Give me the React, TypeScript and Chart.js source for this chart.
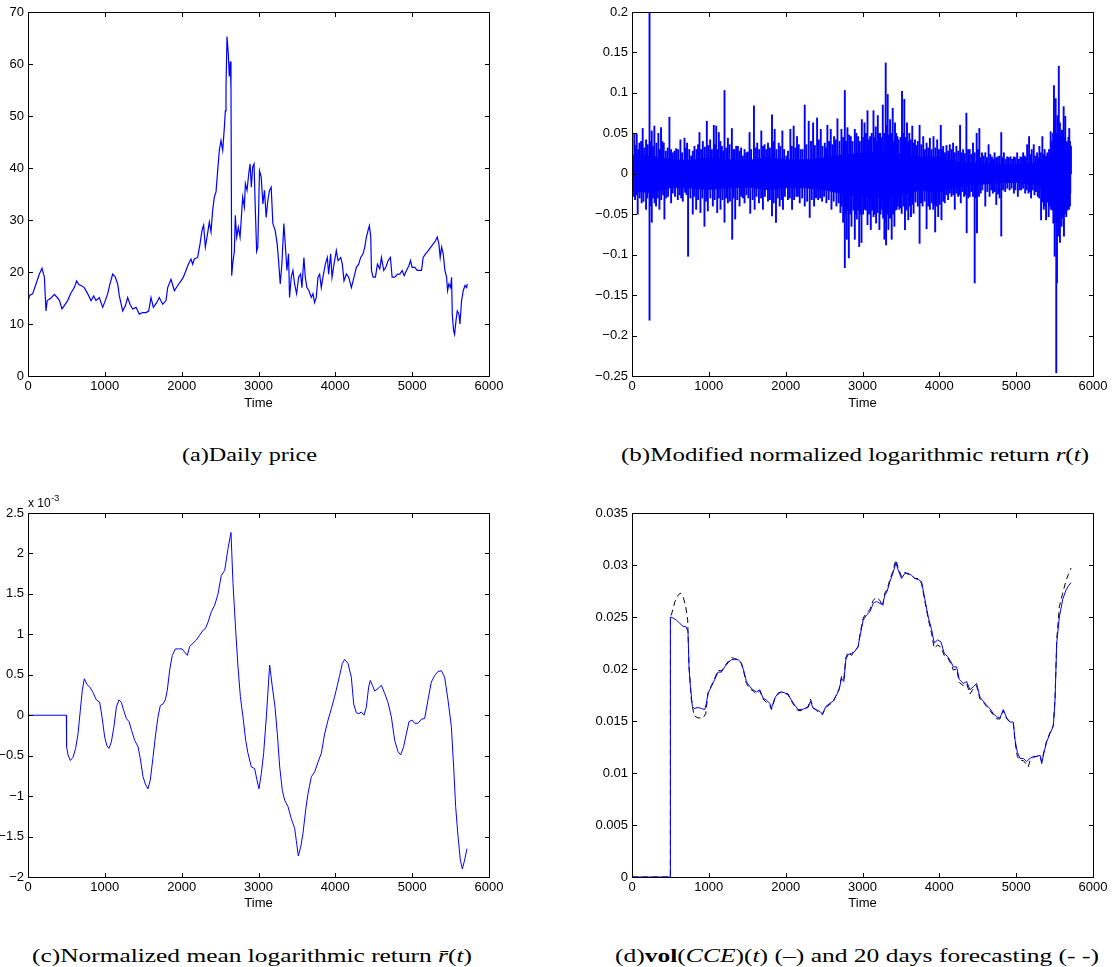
import React, { useEffect, useRef } from "react";
import Chart from "chart.js/auto";

const FONT = "'Liberation Sans', Arial, Helvetica, sans-serif";
const CAP_FONT = "'Liberation Serif', 'Times New Roman', serif";
const BLUE = "#0000ff";

// ---------- (a) Daily price ----------
const priceTime = [0,20,60,104,148,182,213,234,250,300,343,386,410,442,470,516,560,603,633,660,690,733,777,820,855,885,928,972,1006,1037,1067,1102,1137,1167,1189,1232,1267,1297,1328,1362,1406,1449,1492,1536,1571,1601,1631,1675,1709,1753,1796,1818,1861,1905,1948,1991,2022,2056,2087,2121,2143,2165,2208,2239,2265,2286,2308,2330,2360,2382,2403,2425,2447,2469,2490,2512,2534,2556,2568,2577,2590,2607,2620,2633,2642,2651,2664,2686,2698,2716,2738,2760,2777,2794,2816,2829,2851,2873,2890,2907,2924,2942,2959,2976,2991,3013,3035,3057,3078,3100,3122,3143,3165,3187,3217,3243,3261,3283,3304,3330,3348,3370,3391,3404,3426,3448,3470,3496,3522,3548,3565,3591,3609,3630,3657,3687,3709,3730,3752,3774,3796,3817,3839,3870,3896,3913,3939,3957,3983,4013,4035,4070,4091,4113,4143,4174,4209,4243,4274,4304,4330,4361,4383,4404,4426,4443,4461,4470,4491,4522,4548,4578,4600,4630,4657,4687,4717,4739,4774,4809,4839,4870,4896,4926,4957,4978,5000,5035,5065,5091,5122,5143,5174,5209,5243,5274,5304,5326,5348,5365,5383,5404,5426,5448,5461,5478,5500,5513,5522,5539,5552,5570,5587,5609,5622,5643,5665,5687,5709,5717];
const priceValue = [14.2,15.5,15.8,17.7,19.6,20.7,19,12.5,14.5,15,15.7,15,14.5,12.9,13.5,14.5,16,17,18.3,17.6,17.4,17,15.8,14.5,15.4,14.5,15.1,13.2,14.5,15.8,17.7,19.6,19,17.7,15.4,12.5,13.5,15.1,13.8,12.9,13.2,11.9,12.2,12.2,12.5,15.1,13.2,14.1,15.1,13.8,14.5,17,18.6,16.4,17.4,18.3,19,20.3,21.5,22.5,21.5,22.5,22.8,25.4,28,29,24.8,26.7,29.6,27.7,31.8,34.4,35.4,39.5,43.4,45.3,43.4,47.9,51,55.6,65.3,62,57.6,60.5,55.3,19.3,21.5,24,30.9,26.7,28.6,26.7,30.5,34.4,32.5,37,35.7,38.9,40.8,36.3,40.2,40.8,31.8,24,24.8,39.5,38.3,33.1,35.7,30.5,33.8,35.7,36.3,29.3,28,25.4,22.2,17.7,21.5,29.3,25.4,20.3,23.5,15.1,19,20.3,17.7,15.8,19,19.6,17,22.8,19,17,16.4,15.1,15.8,14.1,15.1,19,19.6,17,19,21.5,22.8,19.6,23.5,19,21.5,24.1,22.2,22.8,21.5,18.3,19.6,19,17,19,20.9,21.5,22.8,23.5,24.8,26.7,28,28.9,26.7,20.3,19,19,21.5,20.6,22.8,20.3,20.9,22.2,22.8,19,19,19.6,19.6,20.3,19.3,20.3,21.2,22.2,20.9,20.9,20.3,20.3,20.3,22.8,23.5,24.1,24.8,25.4,26,26.7,25.4,22.8,24.8,23.5,20.3,19,16.4,17.7,17,19,11.9,8.7,8,10.6,12.5,11.9,10,14.5,16.4,17.4,17,17.7];

// ---------- (b) Modified normalized logarithmic return ----------
const coreTime = [0,250,500,750,1000,1250,1500,1750,2000,2250,2500,2750,3000,3250,3500,3750,4000,4250,4500,4750,5000,5250,5500,5720];
const coreHigh = [0.023,0.023,0.018,0.017,0.02,0.018,0.017,0.02,0.018,0.018,0.02,0.024,0.026,0.028,0.025,0.021,0.021,0.015,0.014,0.012,0.012,0.014,0.026,0.023];
const coreLow = [-0.022,-0.024,-0.018,-0.018,-0.02,-0.018,-0.017,-0.02,-0.018,-0.018,-0.02,-0.026,-0.028,-0.03,-0.027,-0.021,-0.023,-0.016,-0.014,-0.012,-0.011,-0.014,-0.029,-0.024];
const spikesUp: [number, number][] = [[30,0.05],[61,0.049],[96,0.038],[139,0.056],[183,0.042],[228,0.2],[257,0.053],[291,0.059],[343,0.05],[378,0.057],[413,0.038],[487,0.07],[530,0.026],[574,0.031],[630,0.042],[683,0.044],[717,0.038],[770,0.022],[813,0.034],[878,0.051],[922,0.04],[974,0.065],[1017,0.042],[1065,0.06],[1096,0.059],[1130,0.051],[1170,0.034],[1204,0.103],[1248,0.044],[1300,0.056],[1335,0.03],[1378,0.034],[1443,0.022],[1487,0.026],[1530,0.051],[1587,0.084],[1630,0.038],[1683,0.053],[1726,0.036],[1770,0.038],[1822,0.073],[1857,0.055],[1909,0.038],[1957,0.053],[2009,0.022],[2061,0.055],[2104,0.059],[2148,0.046],[2196,0.03],[2248,0.085],[2300,0.065],[2357,0.063],[2409,0.069],[2457,0.055],[2509,0.038],[2543,0.06],[2587,0.055],[2630,0.046],[2674,0.068],[2726,0.055],[2770,0.103],[2804,0.057],[2848,0.046],[2900,0.055],[2943,0.046],[2991,0.067],[3026,0.063],[3065,0.078],[3099,0.046],[3143,0.078],[3173,0.058],[3199,0.072],[3229,0.05],[3264,0.085],[3302,0.137],[3328,0.098],[3359,0.067],[3393,0.081],[3423,0.063],[3454,0.046],[3514,0.102],[3544,0.092],[3579,0.063],[3609,0.05],[3648,0.059],[3683,0.042],[3743,0.06],[3790,0.046],[3834,0.038],[3877,0.044],[3924,0.046],[3972,0.042],[4019,0.06],[4050,0.034],[4093,0.035],[4136,0.036],[4179,0.038],[4222,0.034],[4270,0.06],[4309,0.03],[4352,0.075],[4395,0.03],[4438,0.038],[4486,0.05],[4521,0.056],[4555,0.026],[4598,0.026],[4641,0.036],[4685,0.021],[4719,0.026],[4762,0.021],[4806,0.051],[4840,0.026],[4883,0.021],[4927,0.021],[4970,0.021],[5013,0.026],[5056,0.021],[5091,0.026],[5143,0.036],[5168,0.046],[5203,0.03],[5229,0.036],[5272,0.026],[5302,0.034],[5341,0.046],[5371,0.03],[5406,0.026],[5449,0.052],[5492,0.109],[5514,0.093],[5536,0.072],[5555,0.133],[5570,0.063],[5596,0.054],[5618,0.083],[5639,0.071],[5669,0.038],[5691,0.056],[5713,0.034]];
const spikesDown: [number, number][] = [[22,-0.028],[74,-0.05],[126,-0.036],[183,-0.044],[228,-0.181],[257,-0.06],[313,-0.04],[357,-0.044],[422,-0.056],[509,-0.036],[596,-0.032],[661,-0.034],[691,-0.023],[730,-0.102],[791,-0.05],[835,-0.044],[891,-0.048],[943,-0.065],[987,-0.046],[1052,-0.04],[1109,-0.048],[1152,-0.044],[1204,-0.06],[1248,-0.036],[1304,-0.081],[1343,-0.056],[1400,-0.04],[1465,-0.036],[1539,-0.049],[1596,-0.044],[1652,-0.036],[1704,-0.044],[1770,-0.034],[1822,-0.052],[1874,-0.06],[1922,-0.04],[1965,-0.044],[2030,-0.032],[2083,-0.044],[2139,-0.028],[2183,-0.036],[2248,-0.04],[2313,-0.054],[2370,-0.04],[2422,-0.032],[2474,-0.034],[2530,-0.036],[2596,-0.044],[2661,-0.04],[2713,-0.048],[2748,-0.06],[2770,-0.116],[2796,-0.081],[2822,-0.104],[2857,-0.065],[2900,-0.081],[2926,-0.056],[2957,-0.09],[2987,-0.085],[3026,-0.044],[3065,-0.063],[3108,-0.069],[3143,-0.053],[3177,-0.061],[3220,-0.069],[3251,-0.044],[3285,-0.081],[3307,-0.088],[3337,-0.069],[3380,-0.081],[3415,-0.065],[3445,-0.044],[3480,-0.044],[3510,-0.049],[3553,-0.069],[3596,-0.057],[3631,-0.053],[3665,-0.049],[3743,-0.086],[3782,-0.04],[3834,-0.068],[3877,-0.044],[3920,-0.044],[3946,-0.072],[3985,-0.053],[4028,-0.057],[4071,-0.036],[4114,-0.032],[4158,-0.028],[4201,-0.044],[4244,-0.028],[4279,-0.036],[4322,-0.028],[4356,-0.073],[4395,-0.028],[4438,-0.028],[4460,-0.135],[4490,-0.073],[4538,-0.024],[4598,-0.04],[4654,-0.028],[4698,-0.024],[4741,-0.038],[4806,-0.077],[4857,-0.022],[4914,-0.02],[4970,-0.024],[5022,-0.028],[5065,-0.02],[5117,-0.024],[5160,-0.024],[5194,-0.03],[5238,-0.026],[5281,-0.028],[5324,-0.057],[5359,-0.044],[5389,-0.057],[5423,-0.053],[5454,-0.044],[5484,-0.061],[5501,-0.102],[5522,-0.246],[5531,-0.135],[5549,-0.077],[5570,-0.085],[5592,-0.065],[5622,-0.077],[5652,-0.053],[5687,-0.044]];
const mediumUp: [number, number][] = [[45,0.035],[80,0.03],[118,0.04],[160,0.032],[205,0.036],[242,0.04],[272,0.034],[318,0.038],[362,0.03],[395,0.04],[440,0.028],[465,0.032],[508,0.03],[552,0.028],[600,0.03],[652,0.026],[700,0.032],[745,0.03],[792,0.028],[840,0.03],[860,0.036],[900,0.03],[948,0.033],[995,0.035],[1040,0.03],[1080,0.036],[1112,0.03],[1150,0.04],[1188,0.028],[1226,0.032],[1270,0.036],[1318,0.03],[1356,0.034],[1400,0.028],[1420,0.032],[1465,0.03],[1508,0.027],[1550,0.03],[1610,0.032],[1655,0.03],[1705,0.034],[1748,0.03],[1795,0.032],[1840,0.04],[1880,0.03],[1930,0.034],[1980,0.03],[2030,0.028],[2080,0.034],[2125,0.032],[2170,0.036],[2220,0.03],[2270,0.036],[2330,0.04],[2380,0.035],[2432,0.042],[2480,0.034],[2525,0.032],[2565,0.04],[2610,0.036],[2652,0.042],[2700,0.04],[2748,0.045],[2785,0.04],[2826,0.048],[2870,0.04],[2920,0.05],[2965,0.04],[3010,0.045],[3045,0.05],[3082,0.042],[3120,0.05],[3158,0.045],[3186,0.04],[3214,0.05],[3246,0.045],[3283,0.05],[3315,0.06],[3343,0.048],[3376,0.05],[3408,0.04],[3438,0.05],[3470,0.042],[3495,0.045],[3530,0.05],[3562,0.045],[3594,0.04],[3628,0.042],[3665,0.038],[3700,0.035],[3720,0.04],[3765,0.036],[3812,0.03],[3855,0.032],[3900,0.03],[3948,0.032],[3995,0.03],[4035,0.03],[4072,0.026],[4115,0.028],[4158,0.03],[4200,0.026],[4246,0.028],[4290,0.026],[4330,0.025],[4374,0.03],[4416,0.024],[4460,0.026],[4503,0.03],[4538,0.02],[4576,0.022],[4620,0.02],[4662,0.024],[4700,0.018],[4740,0.02],[4784,0.022],[4822,0.02],[4862,0.018],[4905,0.02],[4948,0.018],[4990,0.02],[5035,0.018],[5073,0.02],[5110,0.022],[5125,0.02],[5186,0.024],[5250,0.022],[5290,0.02],[5320,0.026],[5356,0.024],[5390,0.022],[5428,0.03],[5462,0.04],[5480,0.05],[5505,0.06],[5525,0.05],[5545,0.06],[5562,0.05],[5583,0.045],[5607,0.05],[5630,0.045],[5655,0.04],[5680,0.045],[5700,0.04]];
const mediumDown: [number, number][] = [[40,-0.032],[60,-0.026],[100,-0.03],[150,-0.034],[200,-0.03],[240,-0.04],[275,-0.03],[295,-0.036],[335,-0.03],[380,-0.032],[405,-0.026],[445,-0.03],[470,-0.028],[530,-0.024],[560,-0.028],[620,-0.026],[640,-0.03],[710,-0.026],[760,-0.03],[810,-0.028],[860,-0.032],[915,-0.03],[965,-0.034],[1020,-0.03],[1075,-0.032],[1130,-0.03],[1178,-0.032],[1226,-0.03],[1275,-0.034],[1322,-0.03],[1370,-0.032],[1420,-0.028],[1445,-0.03],[1490,-0.026],[1515,-0.03],[1570,-0.032],[1620,-0.028],[1680,-0.03],[1730,-0.028],[1795,-0.032],[1845,-0.036],[1898,-0.03],[1945,-0.032],[1990,-0.028],[2055,-0.03],[2110,-0.032],[2160,-0.028],[2215,-0.03],[2280,-0.034],[2340,-0.032],[2395,-0.03],[2448,-0.03],[2500,-0.028],[2560,-0.032],[2625,-0.034],[2690,-0.036],[2730,-0.04],[2783,-0.05],[2810,-0.045],[2840,-0.05],[2880,-0.045],[2912,-0.05],[2942,-0.045],[2972,-0.05],[3008,-0.05],[3045,-0.045],[3085,-0.05],[3125,-0.045],[3160,-0.05],[3198,-0.048],[3235,-0.05],[3268,-0.055],[3296,-0.06],[3322,-0.05],[3358,-0.055],[3398,-0.05],[3430,-0.045],[3462,-0.04],[3495,-0.042],[3532,-0.04],[3575,-0.045],[3614,-0.04],[3648,-0.038],[3690,-0.035],[3720,-0.04],[3762,-0.036],[3808,-0.034],[3855,-0.04],[3900,-0.036],[3934,-0.038],[3965,-0.04],[4005,-0.038],[4050,-0.034],[4092,-0.026],[4136,-0.024],[4180,-0.026],[4222,-0.024],[4262,-0.026],[4300,-0.022],[4338,-0.026],[4376,-0.03],[4416,-0.022],[4475,-0.03],[4515,-0.028],[4560,-0.02],[4625,-0.022],[4675,-0.02],[4720,-0.022],[4765,-0.025],[4785,-0.03],[4830,-0.02],[4885,-0.018],[4940,-0.018],[4990,-0.02],[5045,-0.02],[5090,-0.018],[5138,-0.02],[5178,-0.022],[5215,-0.02],[5258,-0.022],[5300,-0.03],[5340,-0.035],[5372,-0.04],[5405,-0.035],[5438,-0.04],[5470,-0.045],[5492,-0.05],[5512,-0.06],[5540,-0.06],[5560,-0.055],[5580,-0.05],[5605,-0.055],[5635,-0.05],[5665,-0.045],[5700,-0.04]];

// ---------- (c) Normalized mean logarithmic return (x 10^-3) ----------
const meanTime = [0,499,502,521,551,586,620,651,681,707,733,768,803,846,889,933,963,998,1028,1054,1085,1119,1150,1184,1215,1245,1280,1315,1349,1388,1432,1462,1497,1527,1562,1592,1627,1662,1692,1722,1757,1787,1813,1844,1878,1918,1961,2004,2039,2074,2104,2148,2191,2234,2278,2308,2343,2386,2430,2473,2516,2560,2603,2642,2668,2703,2733,2764,2798,2833,2863,2907,2950,2980,3006,3037,3067,3102,3145,3180,3215,3245,3276,3310,3341,3384,3427,3471,3492,3518,3549,3579,3614,3644,3688,3731,3774,3818,3861,3905,3948,3991,4026,4056,4091,4121,4165,4208,4239,4273,4308,4338,4373,4403,4434,4455,4482,4512,4555,4599,4642,4685,4729,4772,4816,4850,4889,4924,4959,4998,5033,5076,5119,5163,5206,5249,5293,5336,5380,5423,5466,5510,5540,5566,5597,5627,5653,5683,5713];
const meanValue = [0,0,-0.39,-0.49,-0.56,-0.52,-0.41,-0.23,0.06,0.31,0.45,0.38,0.35,0.28,0.19,0.16,-0.02,-0.27,-0.38,-0.41,-0.33,-0.14,0.1,0.19,0.16,0.06,-0.04,-0.08,-0.19,-0.31,-0.39,-0.54,-0.76,-0.85,-0.91,-0.8,-0.52,-0.23,-0.02,0.12,0.14,0.19,0.31,0.56,0.74,0.82,0.82,0.82,0.78,0.74,0.85,0.89,0.93,0.99,1.05,1.07,1.15,1.28,1.36,1.5,1.73,1.79,2.06,2.26,1.63,1.05,0.6,0.23,-0.02,-0.31,-0.47,-0.64,-0.66,-0.8,-0.91,-0.72,-0.47,-0.02,0.62,0.35,0.1,-0.23,-0.64,-0.93,-1.05,-1.13,-1.28,-1.4,-1.55,-1.74,-1.63,-1.46,-1.17,-0.97,-0.76,-0.7,-0.58,-0.47,-0.23,-0.06,0.08,0.23,0.37,0.49,0.64,0.69,0.64,0.47,0.14,0.03,0.02,0.04,0,0.1,0.35,0.43,0.37,0.3,0.33,0.37,0.27,0.16,-0.02,-0.31,-0.45,-0.49,-0.39,-0.23,-0.08,-0.06,-0.1,-0.1,-0.05,-0.04,0.19,0.41,0.49,0.54,0.55,0.47,0.19,-0.14,-0.64,-1.13,-1.5,-1.79,-1.9,-1.79,-1.65];

// ---------- (d) vol(CCE)(t) and 20 days forecasting ----------
const volTime = [0,499,500,534,578,621,664,699,729,742,760,786,808,860,903,947,968,990,1033,1077,1120,1164,1207,1251,1294,1337,1381,1424,1459,1489,1533,1576,1620,1663,1706,1750,1793,1815,1858,1902,1945,1989,2032,2076,2119,2162,2206,2249,2293,2323,2358,2401,2445,2479,2523,2575,2618,2662,2696,2727,2757,2783,2814,2857,2901,2944,2966,3009,3053,3096,3139,3183,3226,3261,3291,3322,3356,3391,3435,3465,3508,3552,3595,3639,3682,3725,3769,3812,3856,3899,3934,3978,4021,4064,4108,4151,4182,4225,4260,4312,4355,4399,4442,4485,4529,4572,4616,4659,4702,4746,4789,4833,4876,4920,4963,4985,5015,5050,5093,5137,5180,5224,5268,5311,5332,5363,5397,5441,5484,5506,5528,5562,5606,5649,5680,5714];
const volValue = [0,0,0.025,0.0249,0.0247,0.0244,0.0241,0.0241,0.0236,0.0202,0.0183,0.0164,0.0162,0.0163,0.0162,0.0161,0.0167,0.0177,0.0183,0.019,0.0197,0.0197,0.0202,0.0206,0.0209,0.0209,0.0209,0.0206,0.0197,0.0188,0.0183,0.018,0.0178,0.018,0.0172,0.017,0.0167,0.0162,0.0172,0.0177,0.0178,0.0177,0.0175,0.017,0.0165,0.0161,0.0161,0.0162,0.0163,0.0169,0.0162,0.0161,0.0159,0.0157,0.0164,0.0167,0.0169,0.0175,0.018,0.0191,0.0188,0.0209,0.0214,0.0215,0.0217,0.0222,0.0231,0.0247,0.0252,0.0255,0.0263,0.0265,0.0263,0.0262,0.0271,0.0275,0.0284,0.0291,0.0302,0.0295,0.0287,0.0292,0.0292,0.029,0.0287,0.0286,0.0284,0.0267,0.025,0.0238,0.0225,0.0228,0.0226,0.0215,0.0212,0.0207,0.0202,0.0202,0.019,0.0186,0.0188,0.018,0.0183,0.0186,0.0173,0.0169,0.0165,0.0162,0.0157,0.0154,0.0153,0.0161,0.0153,0.0149,0.0149,0.0132,0.012,0.0114,0.0114,0.0111,0.0114,0.0116,0.0116,0.0117,0.0109,0.012,0.013,0.0138,0.0145,0.017,0.0225,0.025,0.0267,0.0276,0.028,0.0283];
const forecastTime = [0,499,500,520,560,599,630,664,699,725,742,773,808,860,925,960,990,1033,1077,1120,1164,1207,1251,1294,1337,1381,1424,1459,1489,1533,1576,1620,1663,1706,1750,1793,1815,1858,1902,1945,1989,2032,2076,2119,2162,2206,2249,2293,2323,2358,2401,2445,2479,2523,2575,2618,2662,2696,2727,2757,2783,2814,2857,2901,2944,2966,3009,3053,3096,3139,3183,3226,3261,3291,3322,3356,3391,3435,3465,3508,3552,3595,3639,3682,3725,3769,3812,3856,3899,3934,3978,4021,4064,4108,4151,4182,4225,4260,4312,4355,4399,4442,4485,4529,4572,4616,4659,4702,4746,4789,4833,4876,4920,4963,4985,5015,5050,5093,5137,5158,5180,5224,5268,5311,5332,5363,5397,5441,5484,5506,5528,5562,5606,5649,5680,5714];
const forecastValue = [0,0,0.025,0.0254,0.0265,0.0271,0.0273,0.027,0.026,0.0247,0.0202,0.017,0.0155,0.0153,0.0153,0.0157,0.0177,0.0184,0.0191,0.0199,0.0198,0.0203,0.0207,0.0211,0.021,0.0209,0.0205,0.0196,0.0186,0.0181,0.0179,0.0176,0.0179,0.0171,0.0168,0.0165,0.0161,0.0171,0.0176,0.0178,0.0177,0.0176,0.0169,0.0164,0.016,0.016,0.0162,0.0164,0.0171,0.0163,0.016,0.0158,0.0156,0.0163,0.0166,0.0168,0.0176,0.0181,0.0193,0.019,0.0211,0.0216,0.0213,0.0218,0.0221,0.0233,0.0249,0.0254,0.0257,0.0266,0.0269,0.0266,0.026,0.0273,0.0277,0.0286,0.0293,0.0305,0.0297,0.0289,0.0293,0.0291,0.029,0.0287,0.0287,0.0282,0.0265,0.0248,0.0234,0.022,0.0223,0.0221,0.0213,0.0211,0.0205,0.0199,0.02,0.0187,0.0184,0.0186,0.0176,0.0181,0.0184,0.0171,0.0168,0.0164,0.016,0.0156,0.0152,0.0152,0.016,0.0152,0.0149,0.0148,0.013,0.0116,0.0112,0.0112,0.0108,0.0106,0.0112,0.0115,0.0116,0.0117,0.0111,0.0121,0.0131,0.0139,0.0146,0.0172,0.0228,0.026,0.0273,0.0285,0.0291,0.0297];

// ---------- helpers ----------
const xy = (ts: number[], vs: number[]) => ts.map((t, i) => ({ x: t, y: vs[i] }));
const minus = (s: string) => s.replace("-", "\u2212");

type Geo = { width: number; height: number; L: number; T: number; R: number; B: number };

const matlabBox = {
  id: "matlabBox",
  afterDatasetsDraw(chart: any) {
    const { ctx, chartArea, scales } = chart;
    const l = Math.round(chartArea.left) + 0.5;
    const r = Math.round(chartArea.right) + 0.5;
    const t = Math.round(chartArea.top) + 0.5;
    const b = Math.round(chartArea.bottom) + 0.5;
    const len = 4.5;
    ctx.save();
    ctx.strokeStyle = "#000";
    ctx.lineWidth = 1;
    ctx.setLineDash([]);
    ctx.beginPath();
    ctx.rect(l, t, r - l, b - t);
    scales.x.ticks.forEach((tk: any) => {
      const x = Math.round(scales.x.getPixelForValue(tk.value)) + 0.5;
      ctx.moveTo(x, b); ctx.lineTo(x, b - len);
      ctx.moveTo(x, t); ctx.lineTo(x, t + len);
    });
    scales.y.ticks.forEach((tk: any) => {
      const y = Math.round(scales.y.getPixelForValue(tk.value)) + 0.5;
      ctx.moveTo(l, y); ctx.lineTo(l + len, y);
      ctx.moveTo(r, y); ctx.lineTo(r - len, y);
    });
    ctx.stroke();
    ctx.restore();
  },
};

const expPlugin = {
  id: "expLabel",
  afterDraw(chart: any) {
    const { ctx, chartArea } = chart;
    ctx.save();
    ctx.fillStyle = "#000";
    ctx.textAlign = "left";
    ctx.textBaseline = "alphabetic";
    ctx.font = `12px ${FONT}`;
    const x0 = chartArea.left;
    const y0 = chartArea.top - 6;
    ctx.fillText("x 10", x0, y0);
    const w = ctx.measureText("x 10").width;
    ctx.font = `9px ${FONT}`;
    ctx.fillText("-3", x0 + w + 0.5, y0 - 6);
    ctx.restore();
  },
};

function baseOptions(g: Geo, yMin: number, yMax: number, yStep: number, fmt: (v: number) => string) {
  return {
    responsive: false,
    animation: false,
    layout: { padding: { left: 0, top: g.T, right: g.width - g.R, bottom: 0 } },
    plugins: { legend: { display: false }, tooltip: { enabled: false } },
    elements: { point: { radius: 0 }, line: { tension: 0 } },
    scales: {
      x: {
        type: "linear",
        min: 0,
        max: 6000,
        offset: false,
        ticks: {
          stepSize: 1000,
          autoSkip: false,
          maxRotation: 0,
          padding: 3,
          color: "#000",
          font: { family: FONT, size: 13 },
          callback: (v: number) => String(v),
        },
        grid: { display: false, drawTicks: false },
        border: { display: false },
        title: {
          display: true,
          text: "Time",
          color: "#000",
          font: { family: FONT, size: 13 },
          padding: { top: 0, bottom: 7 },
        },
        afterFit: (s: any) => { s.height = g.height - g.B; },
      },
      y: {
        type: "linear",
        min: yMin,
        max: yMax,
        ticks: {
          stepSize: yStep,
          autoSkip: false,
          padding: 4,
          color: "#000",
          font: { family: FONT, size: 13 },
          callback: (v: number) => fmt(v),
        },
        grid: { display: false, drawTicks: false },
        border: { display: false },
        afterFit: (s: any) => { s.width = g.L; },
      },
    },
  };
}

const geoA: Geo = { width: 520, height: 418, L: 28, T: 12, R: 489, B: 376 };
const geoB: Geo = { width: 533, height: 418, L: 52, T: 12, R: 513, B: 376 };
const geoC: Geo = { width: 520, height: 428, L: 28, T: 23, R: 489, B: 387 };
const geoD: Geo = { width: 533, height: 428, L: 52, T: 23, R: 513, B: 387 };

function configA() {
  return {
    type: "line",
    data: {
      datasets: [
        { data: xy(priceTime, priceValue), borderColor: BLUE, borderWidth: 1.2, pointRadius: 0, fill: false },
      ],
    },
    options: baseOptions(geoA, 0, 70, 10, (v) => String(Math.round(v))),
    plugins: [matlabBox],
  };
}

function configB() {
  const spikes = [...spikesUp, ...spikesDown, ...mediumUp, ...mediumDown].map(([x, y]) => ({ x, y }));
  return {
    type: "line",
    data: {
      datasets: [
        {
          type: "bar",
          data: spikes,
          backgroundColor: BLUE,
          borderWidth: 0,
          barThickness: 1.25,
          stack: "s",
        },
        { data: xy(coreTime, coreLow), borderWidth: 0, borderColor: BLUE, pointRadius: 0, fill: false },
        { data: xy(coreTime, coreHigh), borderWidth: 0, borderColor: BLUE, pointRadius: 0, fill: "-1", backgroundColor: BLUE },
      ],
    },
    options: baseOptions(geoB, -0.25, 0.2, 0.05, (v) => {
      const r = Math.round(v * 100) / 100;
      return r === 0 ? "0" : minus(String(r));
    }),
    plugins: [matlabBox],
  };
}

function configC() {
  return {
    type: "line",
    data: {
      datasets: [
        { data: xy(meanTime, meanValue), borderColor: BLUE, borderWidth: 1, pointRadius: 0, fill: false },
      ],
    },
    options: baseOptions(geoC, -2, 2.5, 0.5, (v) => {
      const r = Math.round(v * 10) / 10;
      return r === 0 ? "0" : minus(String(r));
    }),
    plugins: [matlabBox, expPlugin],
  };
}

function configD() {
  return {
    type: "line",
    data: {
      datasets: [
        { data: xy(volTime, volValue), borderColor: BLUE, borderWidth: 1, pointRadius: 0, fill: false },
        { data: xy(forecastTime, forecastValue), borderColor: "#000", borderWidth: 1, borderDash: [6, 4], pointRadius: 0, fill: false },
      ],
    },
    options: baseOptions(geoD, 0, 0.035, 0.005, (v) => {
      const r = Math.round(v * 1000) / 1000;
      return r === 0 ? "0" : String(r);
    }),
    plugins: [matlabBox],
  };
}

function Panel({ left, top, geo, build }: { left: number; top: number; geo: Geo; build: () => any }) {
  const ref = useRef<HTMLCanvasElement>(null);
  useEffect(() => {
    const chart = new Chart(ref.current as HTMLCanvasElement, build());
    return () => chart.destroy();
  }, []);
  return (
    <canvas
      ref={ref}
      width={geo.width}
      height={geo.height}
      style={{ position: "absolute", left, top, width: geo.width, height: geo.height }}
    />
  );
}

function Captions() {
  const common: any = { fontFamily: CAP_FONT, fontSize: 19.5, fill: "#000", lengthAdjust: "spacingAndGlyphs" };
  return (
    <svg width={1113} height={967} style={{ position: "absolute", left: 0, top: 0 }}>
      <text x={182} y={461} textLength={135} {...common}>(a)Daily price</text>
      <text x={621} y={461} textLength={468} {...common}>(b)Modified normalized logarithmic return <tspan fontStyle="italic">r</tspan>(<tspan fontStyle="italic">t</tspan>)</text>
      <text x={32} y={962} textLength={440} {...common}>(c)Normalized mean logarithmic return <tspan fontStyle="italic">r̄</tspan>(<tspan fontStyle="italic">t</tspan>)</text>
      <text x={615} y={962} textLength={484} {...common}>(d)<tspan fontWeight="bold">vol</tspan>(<tspan fontStyle="italic">CCE</tspan>)(<tspan fontStyle="italic">t</tspan>) (–) and 20 days forecasting (- -)</text>
    </svg>
  );
}

export default function App() {
  return (
    <div style={{ position: "absolute", left: 0, top: 0, width: 1113, height: 967, background: "#fff", overflow: "hidden" }}>
      <Captions />
      <Panel left={0} top={0} geo={geoA} build={configA} />
      <Panel left={580} top={0} geo={geoB} build={configB} />
      <Panel left={0} top={490} geo={geoC} build={configC} />
      <Panel left={580} top={490} geo={geoD} build={configD} />
    </div>
  );
}
